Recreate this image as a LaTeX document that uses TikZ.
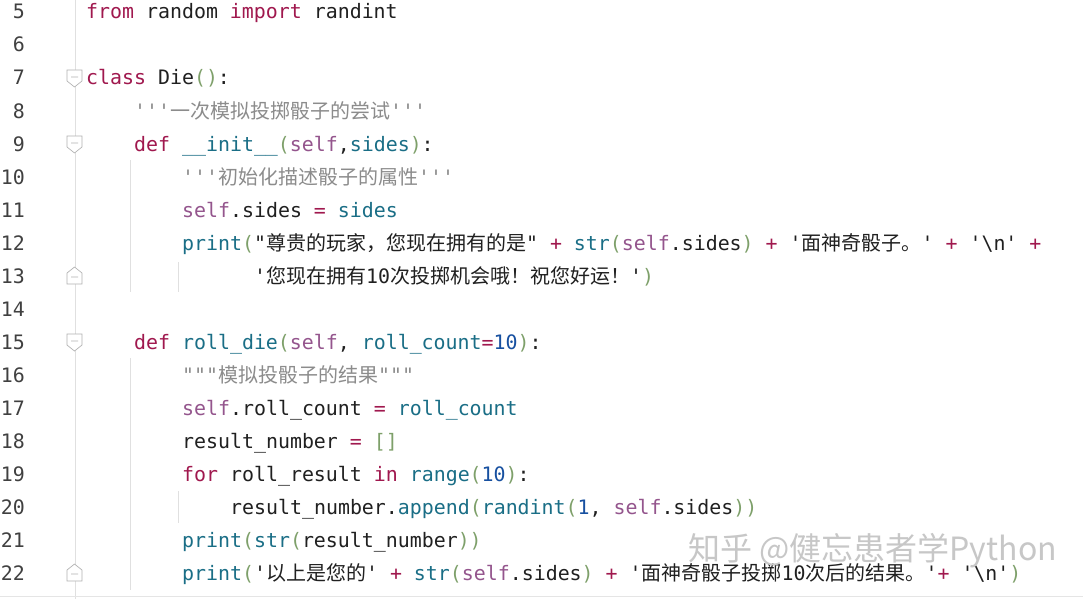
\documentclass[tikz,border=0pt]{standalone}
\usepackage{fontspec}
\newfontfamily\code{DejaVu Sans Mono}
\newfontfamily\zhf{Noto Sans CJK SC}
\newfontfamily\wmf{Noto Sans CJK SC}
\definecolor{kwc}{HTML}{A0184E}
\definecolor{svc}{HTML}{94558D}
\definecolor{bic}{HTML}{1A6E86}
\definecolor{nmc}{HTML}{1750A0}
\definecolor{prc}{HTML}{7EA06A}
\definecolor{dcc}{HTML}{8C8C8C}
\definecolor{txc}{HTML}{202020}
\definecolor{opc}{HTML}{A0184E}
\newcommand\kw[1]{\textcolor{kwc}{#1}}
\newcommand\sv[1]{\textcolor{svc}{#1}}
\newcommand\bi[1]{\textcolor{bic}{#1}}
\newcommand\nm[1]{\textcolor{nmc}{#1}}
\newcommand\pr[1]{\textcolor{prc}{#1}}
\newcommand\dc[1]{\textcolor{dcc}{#1}}
\newcommand\op[1]{\textcolor{opc}{#1}}
\newcommand\zh[1]{{\zhf\fontsize{20}{22}\selectfont #1}}
\tikzset{codeline/.style={anchor=base west,inner sep=0pt,font=\code\fontsize{19.9}{22}\selectfont,text=txc},
lnum/.style={anchor=base east,inner sep=0pt,font=\code\fontsize{19.9}{22}\selectfont,text=black!75},
guide/.style={draw=black!12,line width=0.8pt},
fold/.style={draw=black!30,fill=white,line width=0.7pt}}
\begin{document}
\begin{tikzpicture}[x=1pt,y=-1pt]
\fill[white] (0,0) rectangle (1083,599);
\useasboundingbox (0,0) rectangle (1083,599);
\draw[guide] (75,0) -- (75,599);
\draw[black!10,line width=1pt] (0,596) -- (1083,596);
\draw[guide] (130,160) -- (130,292);
\draw[guide] (178,262) -- (178,292);
\draw[guide] (130,358) -- (130,590);
\draw[guide] (178,491) -- (178,523);
% line numbers
\foreach \n [evaluate=\n as \yy using {19+(\n-5)*33}] in {5,...,22}
  \node[lnum] (ln\n) at (25,\yy) {\n};
% fold markers
\foreach \yy in {78,144,342}
  \draw[fold] (67,\yy-8) -- (82,\yy-8) -- (82,\yy+3) -- (74.5,\yy+9) -- (67,\yy+3) -- cycle (71,\yy-1) -- (78,\yy-1);
\foreach \yy in {276,573}
  \draw[fold] (67,\yy+8) -- (82,\yy+8) -- (82,\yy-3) -- (74.5,\yy-9) -- (67,\yy-3) -- cycle (71,\yy+1) -- (78,\yy+1);
% code
\node[codeline] (c5) at (86,19) {\kw{from} random \kw{import} randint};
\node[codeline] (c7) at (86,85) {\kw{class} Die\pr{()}:};
\node[codeline] (c8) at (134,118) {\dc{'''\zh{一次模拟投掷骰子的尝试}'''}};
\node[codeline] (c9) at (134,151) {\kw{def} \bi{\_\_init\_\_}\pr{(}\sv{self},\bi{sides}\pr{)}:};
\node[codeline] (c10) at (182,184) {\dc{'''\zh{初始化描述骰子的属性}'''}};
\node[codeline] (c11) at (182,217) {\sv{self}.sides \op{=} \bi{sides}};
\node[codeline] (c12) at (182,250) {\bi{print}\pr{(}"\zh{尊贵的玩家，您现在拥有的是}" \op{+} \bi{str}\pr{(}\sv{self}.sides\pr{)} \op{+} '\zh{面神奇骰子。}' \op{+} '\textbackslash n' \op{+}};
\node[codeline] (c13) at (254,283) {'\zh{您现在拥有}10\zh{次投掷机会哦！祝您好运！}'\pr{)}};
\node[codeline] (c15) at (134,349) {\kw{def} \bi{roll\_die}\pr{(}\sv{self}, \bi{roll\_count}\op{=}\nm{10}\pr{)}:};
\node[codeline] (c16) at (182,382) {\dc{"""\zh{模拟投骰子的结果}"""}};
\node[codeline] (c17) at (182,415) {\sv{self}.roll\_count \op{=} \bi{roll\_count}};
\node[codeline] (c18) at (182,448) {result\_number \op{=} \pr{[]}};
\node[codeline] (c19) at (182,481) {\kw{for} roll\_result \kw{in} \bi{range}\pr{(}\nm{10}\pr{)}:};
\node[codeline] (c20) at (230,514) {result\_number.\bi{append}\pr{(}\bi{randint}\pr{(}\nm{1}, \sv{self}.sides\pr{))}};
\node[codeline] (c21) at (182,547) {\bi{print}\pr{(}\bi{str}\pr{(}result\_number\pr{))}};
\node[codeline] (c22) at (182,580) {\bi{print}\pr{(}'\zh{以上是您的}' \op{+} \bi{str}\pr{(}\sv{self}.sides\pr{)} \op{+} '\zh{面神奇骰子投掷}10\zh{次后的结果。}'\op{+} '\textbackslash n'\pr{)}};
% watermark
\node[anchor=west,inner sep=0pt,text=black!22,font=\wmf\fontsize{32}{34}\selectfont] (wm) at (688,551) {知乎 @健忘患者学Python};
\end{tikzpicture}
\end{document}
